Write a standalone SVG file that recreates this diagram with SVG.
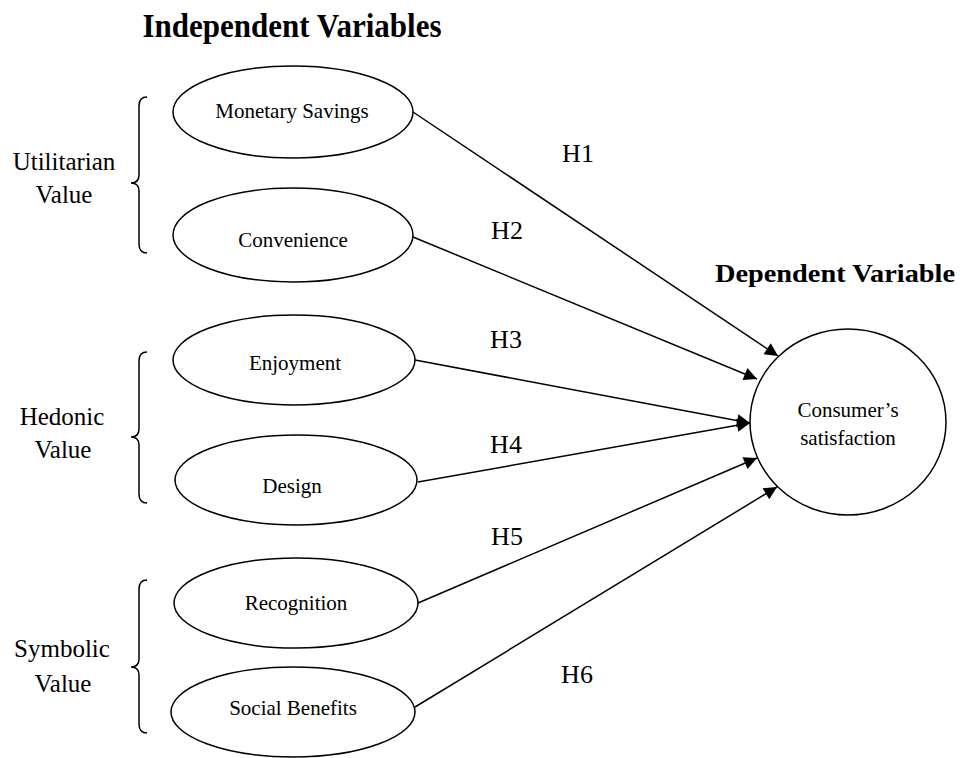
<svg xmlns="http://www.w3.org/2000/svg" width="960" height="758" viewBox="0 0 960 758">
<defs>
<style>
.node{fill:#fff;stroke:#000;stroke-width:1.5}
.t{font-family:"Liberation Serif","Times New Roman",serif;fill:#000;text-anchor:middle}
.nt{font-size:21px}
.grp{font-size:25px}
.h{font-size:26px}
.title{font-weight:bold}
.edge{stroke:#000;stroke-width:1.5;fill:none}
.brace{stroke:#000;stroke-width:1.5;fill:none}
</style>
<marker id="arr" viewBox="0 0 10 10" refX="10" refY="5" markerWidth="18" markerHeight="13" markerUnits="userSpaceOnUse" orient="auto">
<path d="M0,0 L10,5 L0,10 z" fill="#000"/>
</marker>
</defs>
<rect width="960" height="758" fill="#fff"/>

<text class="t title" x="292" y="37" font-size="34" textLength="299" lengthAdjust="spacingAndGlyphs">Independent Variables</text>
<text class="t title" x="835" y="282" font-size="26" textLength="240" lengthAdjust="spacingAndGlyphs">Dependent Variable</text>

<g id="group-utilitarian">
<path class="brace" d="M147,97 Q139,97 139,106 L139,175 Q139,183 131,183 Q139,183 139,191 L139,244 Q139,253 147,253"/>
<text class="t grp" x="64" y="170">Utilitarian</text>
<text class="t grp" x="64" y="203">Value</text>
</g>
<g id="group-hedonic">
<path class="brace" d="M147,352 Q139,352 139,361 L139,429 Q139,437 131,437 Q139,437 139,445 L139,494 Q139,503 147,503"/>
<text class="t grp" x="62" y="425">Hedonic</text>
<text class="t grp" x="63" y="458">Value</text>
</g>
<g id="group-symbolic">
<path class="brace" d="M147,580 Q139,580 139,589 L139,659 Q139,667 131,667 Q139,667 139,675 L139,724 Q139,733 147,733"/>
<text class="t grp" x="62" y="657">Symbolic</text>
<text class="t grp" x="63" y="692">Value</text>
</g>

<g id="connectors">
<line class="edge" x1="413" y1="112" x2="778" y2="356" marker-end="url(#arr)"/>
<line class="edge" x1="413" y1="237" x2="757" y2="379" marker-end="url(#arr)"/>
<line class="edge" x1="415" y1="360" x2="750" y2="423" marker-end="url(#arr)"/>
<line class="edge" x1="418" y1="482" x2="750" y2="423" marker-end="url(#arr)"/>
<line class="edge" x1="418" y1="603" x2="757" y2="458" marker-end="url(#arr)"/>
<line class="edge" x1="415" y1="707" x2="777" y2="487" marker-end="url(#arr)"/>
<text class="t h" x="578" y="162">H1</text>
<text class="t h" x="507" y="239">H2</text>
<text class="t h" x="506" y="348">H3</text>
<text class="t h" x="506" y="453">H4</text>
<text class="t h" x="507" y="545">H5</text>
<text class="t h" x="577" y="683">H6</text>
</g>

<g id="monetary-savings">
<ellipse class="node" cx="293" cy="112" rx="120" ry="46"/>
<text class="t nt" x="292" y="118">Monetary Savings</text>
</g>
<g id="convenience">
<ellipse class="node" cx="293" cy="235" rx="120" ry="47"/>
<text class="t nt" x="293" y="247">Convenience</text>
</g>
<g id="enjoyment">
<ellipse class="node" cx="294" cy="360" rx="121" ry="45"/>
<text class="t nt" x="295" y="370">Enjoyment</text>
</g>
<g id="design">
<ellipse class="node" cx="296" cy="480" rx="121" ry="45"/>
<text class="t nt" x="292" y="493">Design</text>
</g>
<g id="recognition">
<ellipse class="node" cx="296" cy="603" rx="122" ry="45"/>
<text class="t nt" x="296" y="610">Recognition</text>
</g>
<g id="social-benefits">
<ellipse class="node" cx="293" cy="712" rx="122" ry="45"/>
<text class="t nt" x="293" y="715">Social Benefits</text>
</g>

<g id="consumer-satisfaction">
<ellipse class="node" cx="848" cy="422" rx="98" ry="93"/>
<text class="t nt" x="848" y="417">Consumer’s</text>
<text class="t nt" x="848" y="445">satisfaction</text>
</g>
</svg>
